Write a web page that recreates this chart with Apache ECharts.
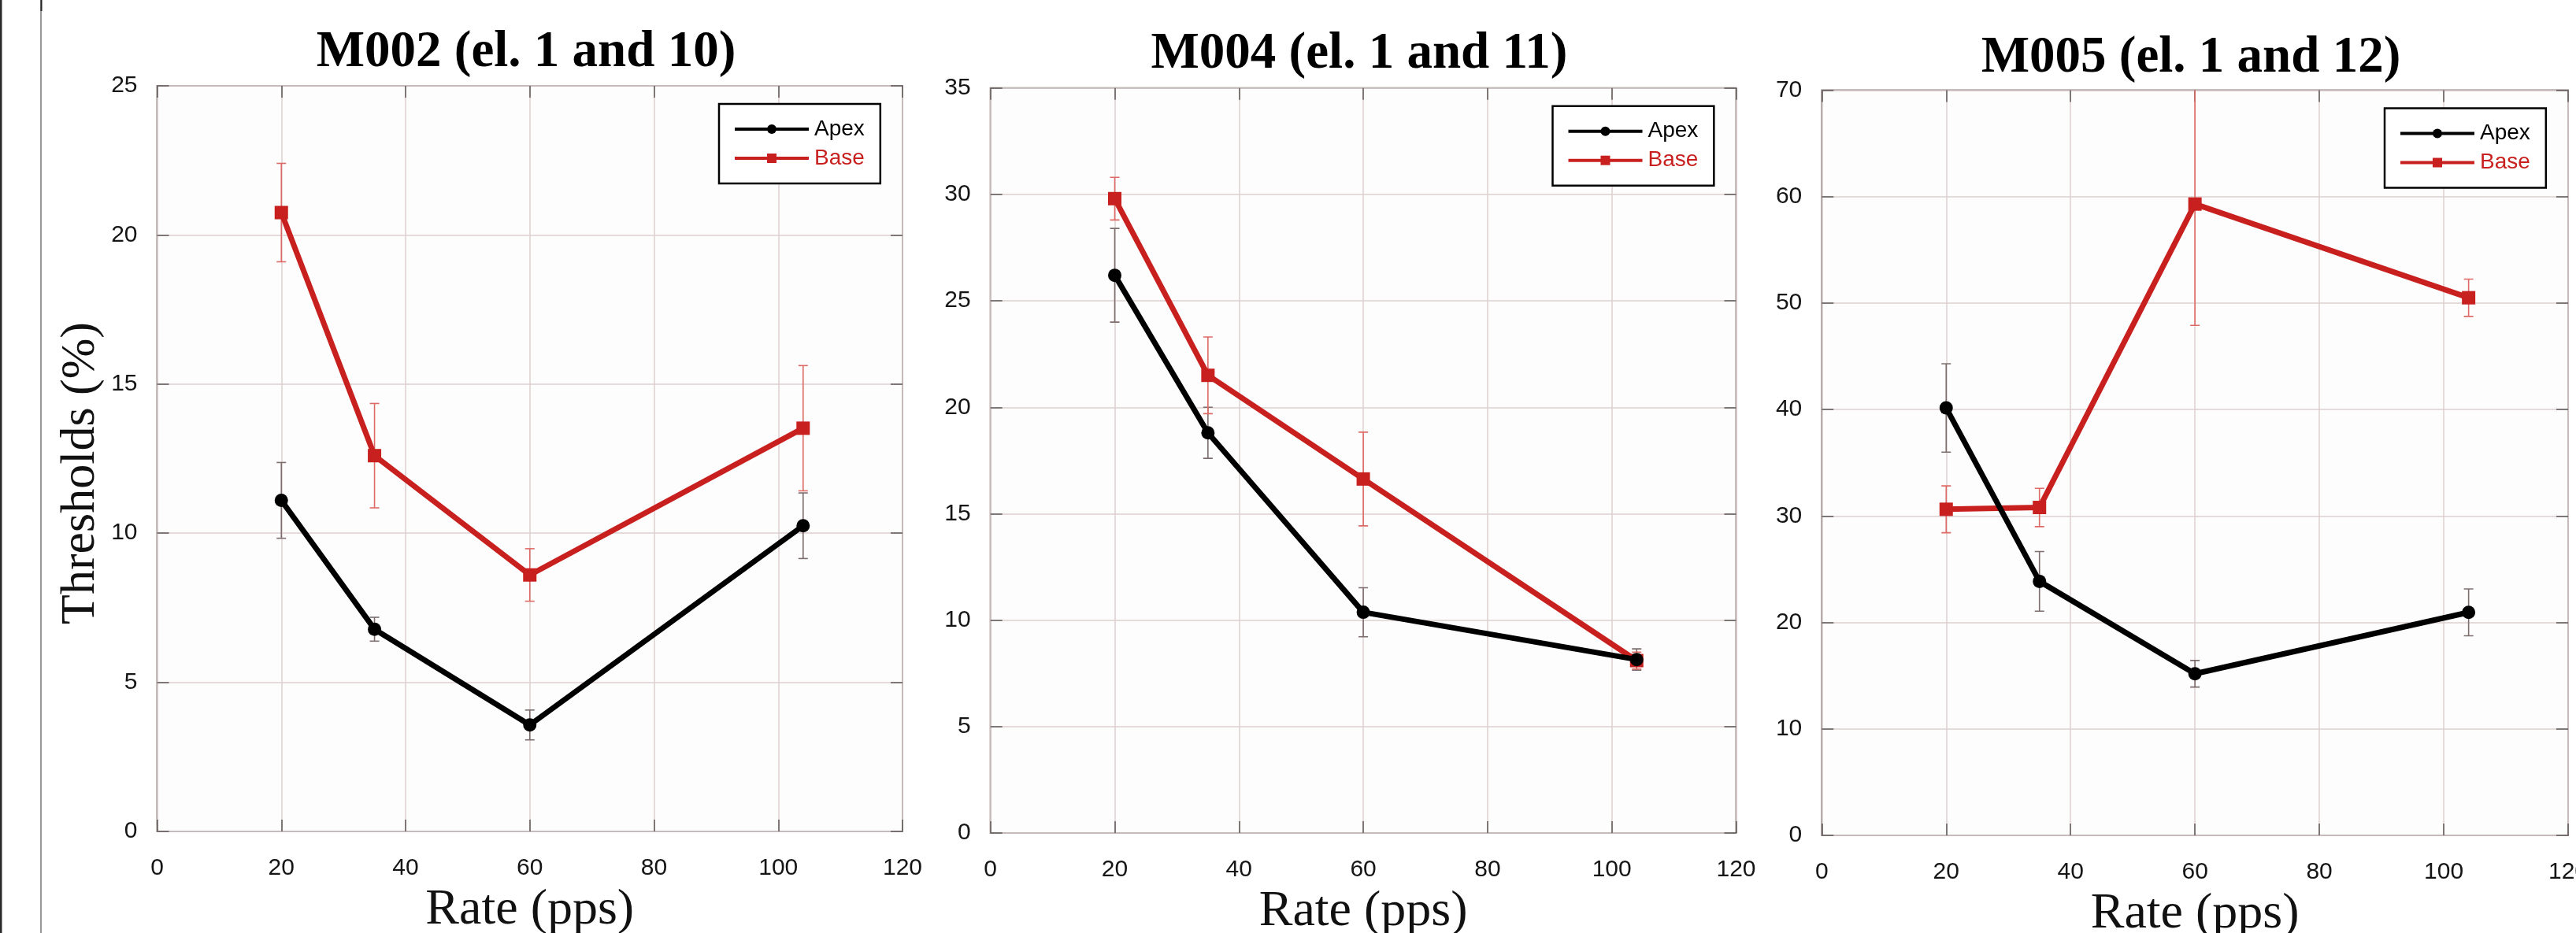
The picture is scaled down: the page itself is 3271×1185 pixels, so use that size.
<!DOCTYPE html>
<html>
<head>
<meta charset="utf-8">
<script src="https://cdn.jsdelivr.net/npm/echarts@6/dist/echarts.min.js"></script>
<style>
  html, body { margin: 0; padding: 0; background: #ffffff; }
  #chart { width: 3271px; height: 1185px; }
</style>
</head>
<body>
<div id="chart"></div>
<script>
// Stimulation rates (pps) shared by all three electrode pairs
const rates = [20, 35, 60, 104];
const xTicks = [0, 20, 40, 60, 80, 100, 120];

// M002 (el. 1 and 10)
const m002Apex = [11.1, 6.78, 3.57, 10.25];
const m002ApexErr = [1.27, 0.4, 0.5, 1.1];
const m002Base = [20.75, 12.6, 8.6, 13.52];
const m002BaseErr = [1.65, 1.75, 0.88, 2.1];

// M004 (el. 1 and 11)
const m004Apex = [26.2, 18.8, 10.37, 8.15];
const m004ApexErr = [2.2, 1.2, 1.15, 0.5];
const m004Base = [29.8, 21.5, 16.63, 8.1];
const m004BaseErr = [1.0, 1.8, 2.2, 0.4];

// M005 (el. 1 and 12)
const m005Apex = [40.15, 23.86, 15.18, 20.95];
const m005ApexErr = [4.15, 2.8, 1.25, 2.2];
const m005Base = [30.63, 30.8, 59.3, 50.5];
const m005BaseErr = [2.2, 1.8, 11.4, 1.75];

const panelTitles = ['M002 (el. 1 and 10)', 'M004 (el. 1 and 11)', 'M005 (el. 1 and 12)'];
const yMax = [25, 35, 70];
const yStep = [5, 5, 10];
const apexSets = [[m002Apex, m002ApexErr], [m004Apex, m004ApexErr], [m005Apex, m005ApexErr]];
const baseSets = [[m002Base, m002BaseErr], [m004Base, m004BaseErr], [m005Base, m005BaseErr]];

// ---- styling / layout ----
const APEX = '#000000';
const BASE = '#c8201e';
const APEX_ERR = '#7d6d6d';
const BASE_ERR = '#de6a66';
const GRID_LINE = '#dccfcf';
const FRAME = '#877c7c';
const TICK = '#5e5555';
const SANS = '"Liberation Sans", Arial, sans-serif';
const SERIF = '"Liberation Serif", "Times New Roman", serif';

const frames = [
  { left: 199.5, top: 109, width: 946.5, height: 947, titleX: 668, titleY: 67 },
  { left: 1257.7, top: 111.7, width: 946.8, height: 946.3, titleX: 1726, titleY: 69 },
  { left: 2313.3, top: 114.5, width: 947.7, height: 946.5, titleX: 2782, titleY: 74 }
];

function errorRenderer(color) {
  return function (params, api) {
    const x = api.value(0);
    const lo = api.value(1);
    const hi = api.value(2);
    const top = api.coord([x, hi]);
    const bot = api.coord([x, lo]);
    const cap = 6;
    const style = { stroke: color, lineWidth: 1.6 };
    return {
      type: 'group',
      children: [
        { type: 'line', shape: { x1: top[0], y1: top[1], x2: bot[0], y2: bot[1] }, style: style },
        { type: 'line', shape: { x1: top[0] - cap, y1: top[1], x2: top[0] + cap, y2: top[1] }, style: style },
        { type: 'line', shape: { x1: bot[0] - cap, y1: bot[1], x2: bot[0] + cap, y2: bot[1] }, style: style }
      ]
    };
  };
}

function pairs(vals) { return rates.map((r, k) => [r, vals[k]]); }
function ranges(vals, errs) { return rates.map((r, k) => [r, vals[k] - errs[k], vals[k] + errs[k]]); }

const grid = [], xAxis = [], yAxis = [], series = [], title = [], legend = [];

frames.forEach((f, i) => {
  grid.push({
    left: f.left, top: f.top, width: f.width, height: f.height,
    outerBoundsMode: 'none', containLabel: false,
    show: true, borderColor: FRAME, borderWidth: 2, backgroundColor: '#fdfdfd'
  });
  const tickStyle = { show: true, inside: true, length: 15, lineStyle: { color: TICK, width: 1.5 } };
  const noLine = { show: false, onZero: false };
  // bottom x axis with labels and grid lines
  xAxis.push({
    type: 'value', gridIndex: i, position: 'bottom',
    min: xTicks[0], max: xTicks[xTicks.length - 1], interval: xTicks[1] - xTicks[0],
    axisLine: noLine, axisTick: tickStyle,
    splitLine: { show: true, lineStyle: { color: GRID_LINE, width: 1.5 } },
    axisLabel: { margin: 32, fontSize: 30, fontFamily: SANS, color: '#151515', showMinLabel: true, showMaxLabel: true, hideOverlap: false },
    name: 'Rate (pps)', nameLocation: 'middle', nameGap: 100,
    nameTextStyle: { fontFamily: SERIF, fontSize: 64, color: '#111', verticalAlign: 'middle' }
  });
  // top x axis carrying only the inward ticks
  xAxis.push({
    type: 'value', gridIndex: i, position: 'top',
    min: xTicks[0], max: xTicks[xTicks.length - 1], interval: xTicks[1] - xTicks[0],
    axisLine: noLine, axisTick: tickStyle, splitLine: { show: false }, axisLabel: { show: false }
  });
  yAxis.push({
    type: 'value', gridIndex: i, position: 'left',
    min: 0, max: yMax[i], interval: yStep[i],
    axisLine: noLine, axisTick: tickStyle,
    splitLine: { show: true, lineStyle: { color: GRID_LINE, width: 1.5 } },
    axisLabel: { margin: 25, fontSize: 30, fontFamily: SANS, color: '#151515', showMinLabel: true, showMaxLabel: true }
  });
  // right y axis carrying only the inward ticks
  yAxis.push({
    type: 'value', gridIndex: i, position: 'right',
    min: 0, max: yMax[i], interval: yStep[i],
    axisLine: noLine, axisTick: tickStyle, splitLine: { show: false }, axisLabel: { show: false }
  });

  const xi = i * 2, yi = i * 2;
  const [aVals, aErr] = apexSets[i];
  const [bVals, bErr] = baseSets[i];

  series.push({
    type: 'custom', name: 'Apex error', xAxisIndex: xi, yAxisIndex: yi, clip: true, z: 2,
    renderItem: errorRenderer(APEX_ERR), data: ranges(aVals, aErr), silent: true
  });
  series.push({
    type: 'custom', name: 'Base error', xAxisIndex: xi, yAxisIndex: yi, clip: true, z: 2,
    renderItem: errorRenderer(BASE_ERR), data: ranges(bVals, bErr), silent: true
  });
  series.push({
    type: 'line', name: 'Apex', xAxisIndex: xi, yAxisIndex: yi, z: 4,
    data: pairs(aVals), symbol: 'circle', symbolSize: 17,
    lineStyle: { color: APEX, width: 7 }, itemStyle: { color: APEX }, animation: false
  });
  series.push({
    type: 'line', name: 'Base', xAxisIndex: xi, yAxisIndex: yi, z: 3,
    data: pairs(bVals), symbol: 'rect', symbolSize: 17,
    lineStyle: { color: BASE, width: 7 }, itemStyle: { color: BASE }, animation: false
  });

  title.push({
    text: panelTitles[i], left: f.titleX, top: f.titleY, padding: 0,
    textAlign: 'center', textVerticalAlign: 'middle',
    textStyle: { fontFamily: SERIF, fontWeight: 'bold', fontSize: 65, color: '#000' }
  });

  legend.push({
    left: f.left + f.width - 233, top: f.top + 23,
    orient: 'vertical', selectedMode: false,
    itemWidth: 94, itemHeight: 15, itemGap: 7,
    padding: [17, 20, 17, 18],
    borderColor: '#000', borderWidth: 2.5, backgroundColor: '#ffffff',
    lineStyle: { width: 4 },
    textStyle: { fontFamily: SANS, fontSize: 28, lineHeight: 30, padding: [0, 0, 0, 2] },
    data: [
      { name: 'Apex', textStyle: { color: '#000' } },
      { name: 'Base', textStyle: { color: BASE } }
    ]
  });
});

const chart = echarts.init(document.getElementById('chart'), null, { renderer: 'canvas' });
chart.setOption({
  animation: false,
  backgroundColor: '#ffffff',
  title: title,
  legend: legend,
  grid: grid,
  xAxis: xAxis,
  yAxis: yAxis,
  series: series,
  graphic: [
    // shared y-axis title of the first panel
    {
      type: 'text', x: 103, y: 601, rotation: Math.PI / 2,
      style: { text: 'Thresholds (%)', fontFamily: SERIF, fontSize: 62, fill: '#111', align: 'center', verticalAlign: 'middle' }
    },
    // page edge rules
    { type: 'rect', shape: { x: 0, y: 0, width: 2.5, height: 1185 }, style: { fill: '#2a2a2a' } },
    { type: 'line', shape: { x1: 52, y1: 0, x2: 52, y2: 1185 }, style: { stroke: '#555', lineWidth: 1.2 } },
    { type: 'line', shape: { x1: 52.5, y1: 0, x2: 52.5, y2: 14 }, style: { stroke: '#222', lineWidth: 2 } }
  ]
});
</script>
</body>
</html>
